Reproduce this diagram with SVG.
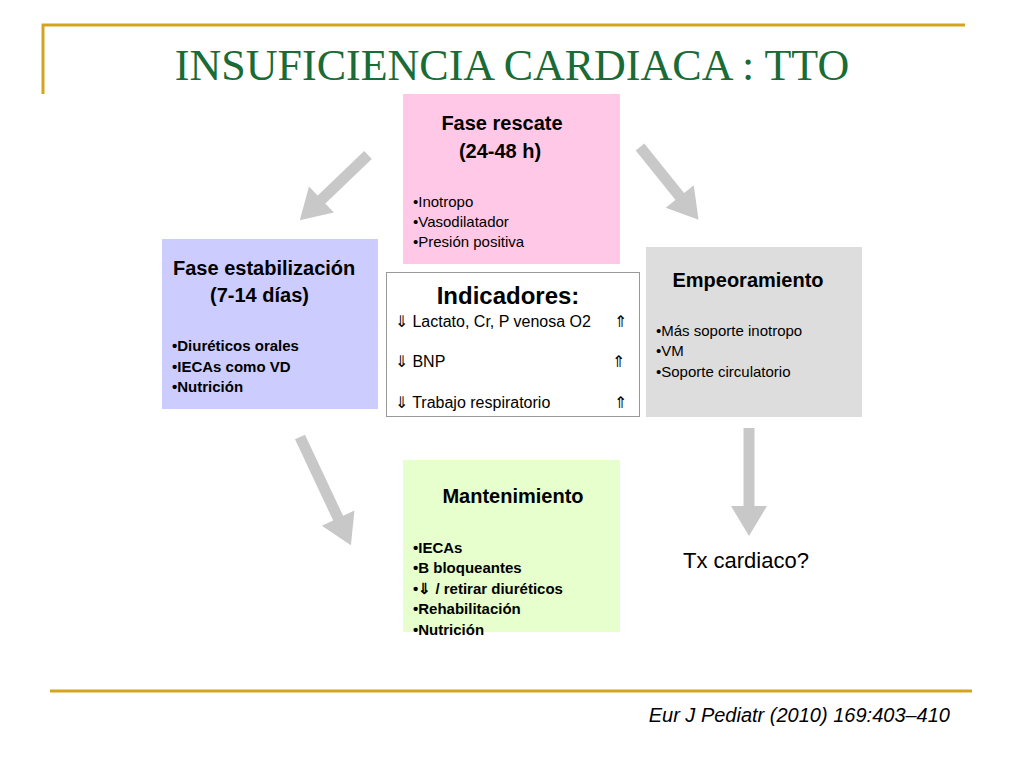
<svg xmlns="http://www.w3.org/2000/svg" width="1024" height="768" viewBox="0 0 1024 768">
<style>
.t{font-family:"Liberation Sans",Arial,sans-serif;fill:#000}
.h{font-size:20px;font-weight:bold}
.s{font-size:15px}
.b{font-size:15px;font-weight:bold}
.ar{stroke:#c8c8c8;stroke-width:11;fill:none}
</style>
<defs>
<marker id="ah" markerUnits="userSpaceOnUse" markerWidth="36" markerHeight="36" refX="2" refY="18" orient="auto" viewBox="0 0 30 36">
<path d="M0,0 L30,18 L0,36 Z" fill="#c8c8c8"/>
</marker>
</defs>
<rect width="1024" height="768" fill="#fff"/>
<path d="M43,94 V25 H965" fill="none" stroke="#d4a420" stroke-width="3"/>
<line x1="50" y1="691" x2="972" y2="691" stroke="#d4a420" stroke-width="3"/>
<text x="512" y="80" text-anchor="middle" font-family="Liberation Serif,serif" font-size="44" fill="#1a6b35">INSUFICIENCIA CARDIACA : TTO</text>
<g id="connectors">
<line class="ar" x1="368" y1="155" x2="320" y2="201" marker-end="url(#ah)"/>
<line class="ar" x1="640" y1="147" x2="681" y2="198" marker-end="url(#ah)"/>
<line class="ar" x1="300" y1="437" x2="339" y2="520" marker-end="url(#ah)"/>
<line class="ar" x1="749" y1="428" x2="749" y2="508" marker-end="url(#ah)"/>
</g>
<g id="rescate">
<rect x="403" y="94" width="217" height="170" fill="#ffc8e6"/>
<text class="t h" x="502" y="130" text-anchor="middle">Fase rescate</text>
<text class="t h" x="500" y="158" text-anchor="middle">(24-48 h)</text>
<text class="t s" x="413" y="207">•Inotropo</text>
<text class="t s" x="413" y="227">•Vasodilatador</text>
<text class="t s" x="413" y="247">•Presión positiva</text>
</g>
<g id="estabilizacion">
<rect x="162" y="239" width="216" height="170" fill="#ccccff"/>
<text class="t h" x="173" y="275">Fase estabilización</text>
<text class="t h" x="210" y="302">(7-14 días)</text>
<text class="t b" x="172" y="351">•Diuréticos orales</text>
<text class="t b" x="172" y="372">•IECAs como VD</text>
<text class="t b" x="172" y="392">•Nutrición</text>
</g>
<g id="indicadores">
<rect x="386.5" y="272.5" width="253" height="144" fill="#fff" stroke="#999" stroke-width="1"/>
<text class="t" x="508" y="304" text-anchor="middle" font-size="24" font-weight="bold">Indicadores:</text>
<text class="t" x="395" y="327" font-size="16">⇓ Lactato, Cr, P venosa O2</text>
<text class="t" x="614" y="327" font-size="16">⇑</text>
<text class="t" x="395" y="367" font-size="16">⇓ BNP</text>
<text class="t" x="612" y="367" font-size="16">⇑</text>
<text class="t" x="395" y="408" font-size="16">⇓ Trabajo respiratorio</text>
<text class="t" x="614" y="408" font-size="16">⇑</text>
</g>
<g id="empeoramiento">
<rect x="646" y="247" width="216" height="170" fill="#dddddd"/>
<text class="t h" x="748" y="287" text-anchor="middle">Empeoramiento</text>
<text class="t s" x="656" y="336">•Más soporte inotropo</text>
<text class="t s" x="656" y="356">•VM</text>
<text class="t s" x="656" y="377">•Soporte circulatorio</text>
</g>
<g id="mantenimiento">
<rect x="403" y="460" width="217" height="172" fill="#e6ffcc"/>
<text class="t h" x="513" y="503" text-anchor="middle">Mantenimiento</text>
<text class="t b" x="413" y="553">•IECAs</text>
<text class="t b" x="413" y="573">•B bloqueantes</text>
<text class="t b" x="413" y="594">•⇓ / retirar diuréticos</text>
<text class="t b" x="413" y="614">•Rehabilitación</text>
<text class="t b" x="413" y="635">•Nutrición</text>
</g>
<g id="tx">
<text class="t" x="683" y="568" font-size="22">Tx cardiaco?</text>
</g>
<text class="t" x="950" y="722" text-anchor="end" font-size="20" font-style="italic">Eur J Pediatr (2010) 169:403–410</text>
</svg>
